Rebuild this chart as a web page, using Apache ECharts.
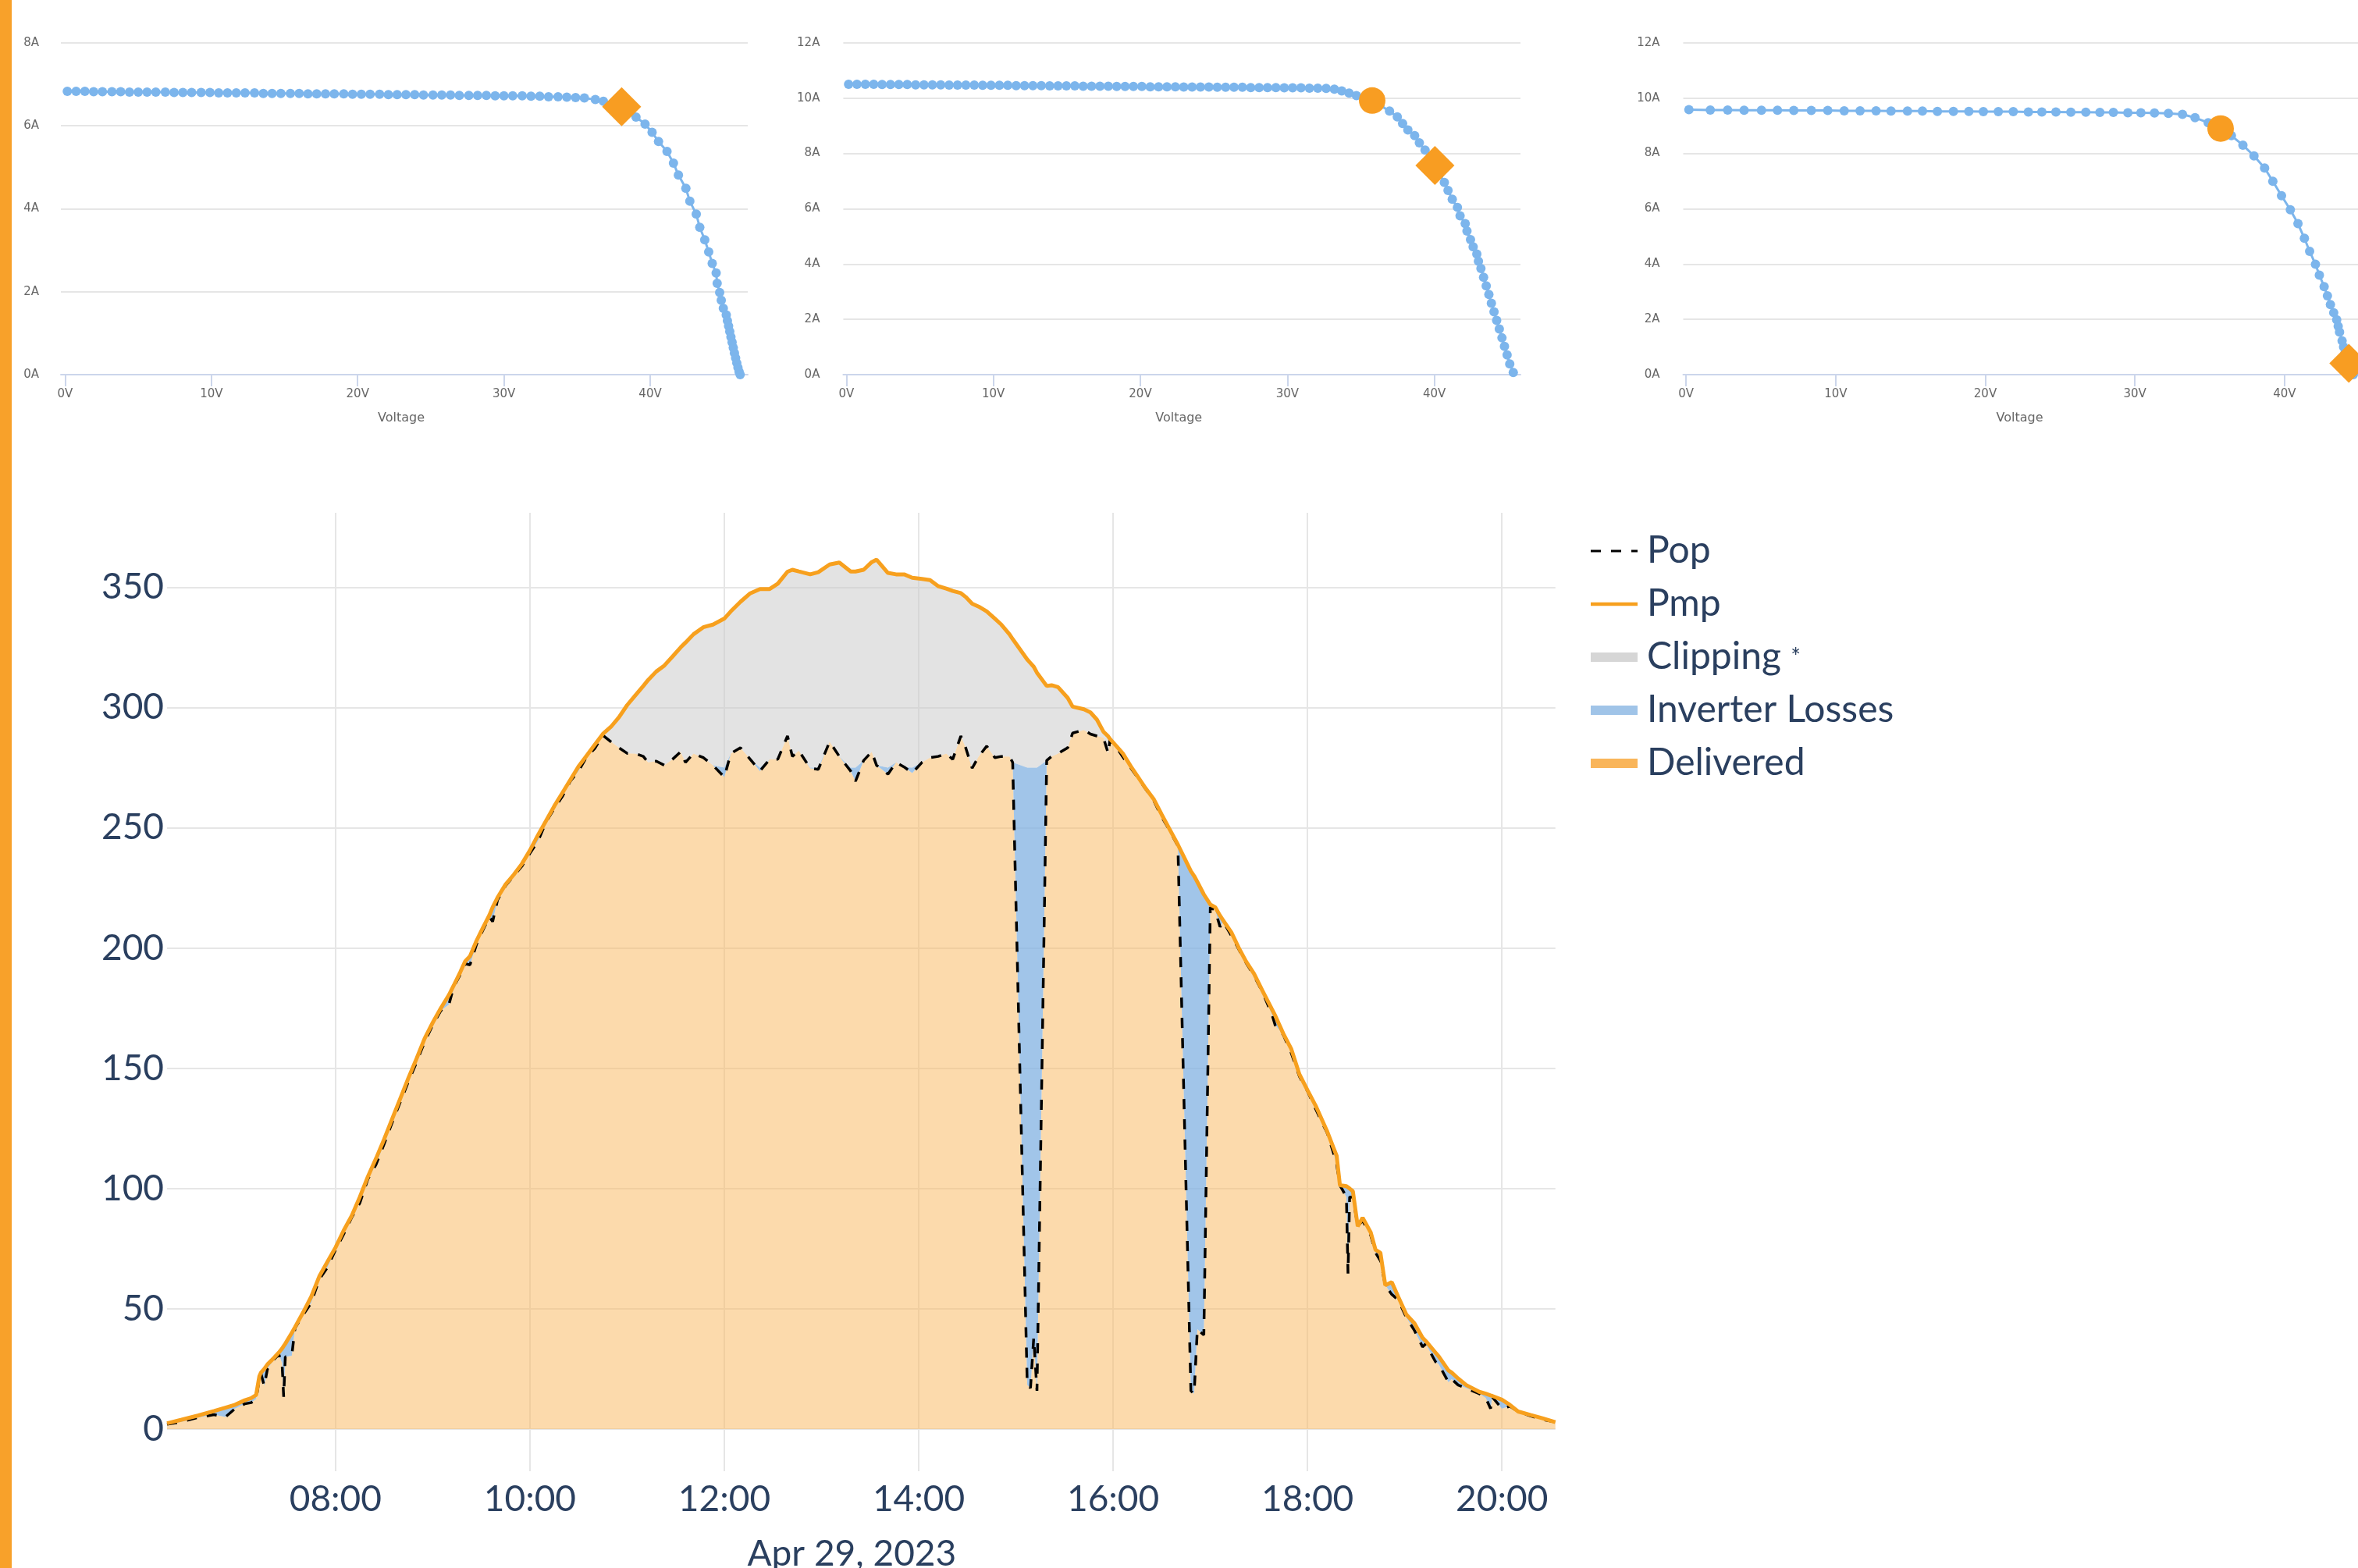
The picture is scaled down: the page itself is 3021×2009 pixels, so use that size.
<!DOCTYPE html>
<html><head><meta charset="utf-8">
<script src="https://cdn.jsdelivr.net/npm/echarts@6.0.0/dist/echarts.min.js"></script>
<style>html,body{margin:0;padding:0;background:#fff;overflow:hidden}#c{width:3021px;height:2009px}</style>
</head><body><div id="c"></div><script>
// ---------- IV curves (Voltage [V], Current [A]) ----------
const ivCurve1 = [[0.15,6.83],[0.75,6.83],[1.35,6.83],[1.95,6.82],[2.55,6.82],[3.2,6.82],[3.8,6.82],[4.4,6.81],[5.0,6.81],[5.6,6.81],
[6.2,6.81],[6.85,6.81],[7.45,6.80],[8.05,6.80],[8.65,6.80],[9.3,6.80],[9.9,6.80],[10.5,6.79],[11.1,6.79],[11.7,6.79],
[12.3,6.79],[12.95,6.79],[13.55,6.78],[14.15,6.78],[14.75,6.78],[15.4,6.78],[16.0,6.78],[16.6,6.77],[17.2,6.77],[17.8,6.77],
[18.4,6.77],[19.05,6.77],[19.65,6.76],[20.25,6.76],[20.85,6.76],[21.5,6.76],[22.1,6.75],[22.7,6.75],[23.3,6.75],[23.9,6.75],
[24.5,6.74],[25.15,6.74],[25.75,6.74],[26.35,6.74],[26.95,6.73],[27.6,6.73],[28.2,6.73],[28.8,6.73],[29.4,6.72],[30.0,6.72],
[30.6,6.72],[31.25,6.72],[31.85,6.71],[32.45,6.71],[33.05,6.70],[33.7,6.70],[34.3,6.69],[34.9,6.68],[35.5,6.67],[36.25,6.63],
[36.8,6.59],[37.45,6.53],[38.05,6.46],[38.55,6.35],[39.03,6.21],[39.65,6.04],[40.13,5.84],[40.57,5.62],[41.15,5.38],[41.59,5.10],
[41.93,4.81],[42.44,4.49],[42.71,4.18],[43.15,3.87],[43.39,3.55],[43.73,3.25],[44.0,2.96],[44.24,2.68],[44.51,2.45],[44.58,2.20],
[44.75,1.98],[44.86,1.79],[45.0,1.60],[45.2,1.44],[45.28,1.30],[45.36,1.17],[45.44,1.04],[45.52,0.91],[45.6,0.78],[45.68,0.65],
[45.76,0.52],[45.84,0.40],[45.92,0.28],[46.0,0.17],[46.08,0.07],[46.15,0.0]];
const ivCurve2 = [[0.15,10.50],[0.72,10.50],[1.29,10.50],[1.86,10.50],[2.43,10.49],[3.0,10.49],[3.57,10.49],[4.14,10.49],[4.71,10.48],[5.28,10.48],
[5.85,10.48],[6.42,10.48],[6.99,10.47],[7.56,10.47],[8.13,10.47],[8.7,10.47],[9.27,10.46],[9.84,10.46],[10.41,10.46],[10.98,10.46],
[11.55,10.45],[12.12,10.45],[12.69,10.45],[13.26,10.45],[13.83,10.44],[14.4,10.44],[14.97,10.44],[15.54,10.44],[16.11,10.43],[16.68,10.43],
[17.25,10.43],[17.82,10.43],[18.39,10.42],[18.96,10.42],[19.53,10.42],[20.1,10.42],[20.67,10.41],[21.24,10.41],[21.81,10.41],[22.38,10.41],
[22.95,10.40],[23.52,10.40],[24.09,10.40],[24.66,10.40],[25.23,10.39],[25.8,10.39],[26.37,10.39],[26.94,10.39],[27.51,10.38],[28.08,10.38],
[28.65,10.38],[29.22,10.38],[29.79,10.37],[30.36,10.37],[30.93,10.37],[31.5,10.36],[32.07,10.36],[32.64,10.35],[33.2,10.32],[33.7,10.26],
[34.2,10.18],[34.7,10.09],[35.25,10.0],[35.77,9.91],[36.3,9.74],[36.95,9.53],[37.48,9.32],[37.84,9.08],[38.2,8.85],[38.66,8.64],
[38.98,8.38],[39.37,8.12],[39.7,7.85],[40.04,7.56],[40.35,7.25],[40.68,6.95],[40.93,6.66],[41.22,6.34],[41.57,6.05],[41.75,5.74],
[42.1,5.46],[42.22,5.19],[42.46,4.88],[42.64,4.62],[42.89,4.36],[43.0,4.1],[43.17,3.84],[43.35,3.52],[43.53,3.21],[43.71,2.90],
[43.88,2.58],[44.06,2.27],[44.24,1.96],[44.42,1.65],[44.6,1.33],[44.77,1.02],[44.95,0.71],[45.13,0.39],[45.37,0.08]];
const ivCurve3 = [[0.19,9.58],[1.62,9.57],[2.78,9.57],[3.88,9.56],[5.04,9.56],[6.11,9.56],[7.2,9.55],[8.37,9.55],[9.47,9.55],[10.57,9.54],
[11.63,9.54],[12.7,9.54],[13.7,9.53],[14.8,9.53],[15.8,9.53],[16.8,9.52],[17.87,9.52],[18.9,9.52],[19.87,9.51],[20.87,9.51],
[21.87,9.51],[22.88,9.5],[23.78,9.5],[24.72,9.5],[25.72,9.49],[26.72,9.49],[27.66,9.48],[28.56,9.48],[29.53,9.47],[30.4,9.47],
[31.31,9.46],[32.24,9.45],[33.18,9.41],[34.02,9.29],[34.9,9.11],[35.73,8.9],[36.45,8.64],[37.22,8.3],[37.96,7.91],[38.67,7.47],
[39.22,6.99],[39.8,6.47],[40.39,5.96],[40.9,5.46],[41.33,4.93],[41.68,4.46],[42.07,3.99],[42.33,3.6],[42.65,3.18],[42.87,2.85],
[43.07,2.53],[43.29,2.24],[43.49,1.98],[43.59,1.75],[43.68,1.54],[43.85,1.22],[43.95,1.0],[44.05,0.8],[44.15,0.6],[44.3,0.41],
[44.45,0.2],[44.6,0.0]];
const diamond1 = [[38.05,6.46]];
const circle2 = [[35.77,9.91]];
const diamond2 = [[40.04,7.56]];
const circle3 = [[35.73,8.9]];
const diamond3 = [[44.3,0.41]];
const voltTicks = [0,10,20,30,40];
const ivYMax = [8,12,12];
const ivXRange = [[-0.29,46.67],[-0.21,45.86],[-0.19,45.2]];

// ---------- Power over the day ----------
const timeLabels = ['06:16','06:25','06:35','06:45','06:52','06:58','07:04','07:08','07:11','07:13',
'07:14','07:16','07:18','07:22','07:25','07:27','07:28','07:29','07:33','07:35',
'07:40','07:45','07:50','07:55','08:00','08:05','08:10','08:15','08:20','08:25',
'08:30','08:35','08:40','08:45','08:50','08:55','09:00','09:05','09:10','09:13',
'09:17','09:20','09:23','09:27','09:31','09:35','09:37','09:40','09:45','09:50',
'09:55','10:00','10:05','10:10','10:15','10:20','10:25','10:30','10:35','10:40',
'10:45','10:50','10:55','11:00','11:05','11:10','11:13','11:18','11:23','11:28',
'11:33','11:36','11:41','11:47','11:53','12:00','12:04','12:10','12:16','12:22',
'12:28','12:33','12:39','12:42','12:46','12:53','12:58','13:05','13:11','13:18',
'13:21','13:26','13:31','13:34','13:41','13:46','13:51','13:56','14:02','14:07',
'14:12','14:17','14:21','14:26','14:29','14:33','14:37','14:42','14:47','14:51',
'14:56','14:58','15:07','15:09','15:11','15:13','15:19','15:22','15:26','15:32',
'15:35','15:42','15:46','15:50','15:54','15:57','15:58','16:02','16:06','16:11',
'16:15','16:20','16:25','16:30','16:34','16:40','16:48','16:50','16:52','16:56',
'17:00','17:03','17:06','17:08','17:13','17:18','17:22','17:27','17:32','17:38',
'17:40','17:45','17:50','17:55','18:00','18:05','18:10','18:12','18:16','18:18',
'18:20','18:24','18:25','18:26','18:28','18:31','18:34','18:39','18:42','18:45',
'18:48','18:52','18:56','19:01','19:06','19:11','19:13','19:19','19:21','19:27',
'19:29','19:33','19:38','19:46','19:50','19:53','19:54','20:00','20:05','20:10',
'20:18','20:25','20:33'];
const pmpValues = [2.4,3.9,5.6,7.5,8.9,10.1,12.0,12.9,14.2,22.0,
23.5,25.0,26.9,29.6,31.8,33.5,34.5,35.5,40.0,42.4,
48.5,55.0,63.5,69.5,75.5,82.5,88.7,96.5,105.0,112.5,
120.5,129.0,137.5,146.0,154.0,162.4,169.0,175.0,180.5,184.5,
190.0,194.5,196.6,203.0,208.5,213.7,217.0,221.0,226.5,230.5,
235.0,240.6,247.0,253.0,259.0,264.5,270.0,275.5,280.0,284.5,
289.0,292.0,296.0,301.0,305.0,309.0,311.5,315.0,317.5,321.2,
325.0,327.0,330.5,333.4,334.5,337.0,340.0,344.0,347.5,349.3,
349.3,351.5,356.5,357.3,356.6,355.4,356.3,359.5,360.3,356.6,
356.6,357.3,360.5,361.5,356.0,355.4,355.4,354.0,353.5,353.0,
350.5,349.5,348.5,347.6,346.0,343.2,342.0,340.0,337.0,334.5,
330.5,328.5,320.0,318.5,317.0,314.5,309.0,309.3,308.5,304.0,
300.4,299.3,298.0,295.0,290.0,288.0,287.0,284.0,280.9,275.5,
271.5,266.5,262.0,255.5,250.5,243.0,232.0,230.0,227.5,222.3,
218.1,217.0,213.5,211.5,206.5,199.5,194.5,189.3,182.5,174.6,
172.0,164.5,158.0,147.5,140.9,134.5,127.0,124.0,117.0,113.6,
101.4,101.0,100.5,100.0,98.9,84.3,87.9,81.8,74.5,73.3,
59.8,61.1,55.0,47.6,44.0,38.0,36.6,31.8,30.2,24.4,
23.5,21.0,18.3,15.5,14.7,14.0,13.8,12.2,10.0,7.3,
5.8,4.5,2.9];
const popValues = [2.0,3.0,4.8,6.0,5.0,8.5,10.5,11.0,12.5,21.0,
23.0,18.0,25.0,29.0,31.0,27.5,13.4,30.0,30.5,42.0,
47.5,52.5,62.3,67.2,74.5,81.0,88.0,94.0,104.0,110.0,
118.5,127.5,136.0,144.5,152.5,161.0,168.0,174.0,176.5,184.0,
189.0,193.5,193.0,201.5,207.5,213.0,211.0,220.0,226.0,230.0,
234.0,239.4,244.5,252.5,258.0,263.0,269.5,273.6,279.5,283.0,
288.5,285.8,283.3,281.0,280.9,279.7,277.2,277.7,276.0,278.5,
281.6,277.2,280.9,279.2,276.0,271.1,280.9,283.3,278.5,273.6,
278.5,278.5,288.2,279.7,282.1,274.8,274.3,285.8,279.7,273.6,
269.4,278.0,281.6,276.0,272.3,277.2,275.3,272.8,277.2,279.2,
279.7,280.9,278.5,288.2,283.3,274.8,279.7,284.0,279.2,279.7,
279.7,277.2,18.3,17.1,37.9,15.9,278.0,279.7,280.9,283.3,
289.4,290.7,289.0,288.2,287.5,280.9,286.5,283.5,279.5,274.8,
271.1,266.2,261.5,254.5,250.0,242.5,15.9,14.7,41.5,39.1,
217.0,215.7,208.8,211.0,205.2,199.0,194.0,188.5,182.0,172.5,
168.0,164.0,156.3,146.6,140.5,133.1,126.0,123.4,114.8,110.0,
101.4,96.5,64.7,96.5,96.5,84.3,86.7,80.6,73.3,70.0,
59.8,56.0,53.7,46.4,41.0,34.2,35.4,28.0,26.9,19.5,
20.8,18.3,17.0,14.7,13.0,8.5,13.4,8.5,9.5,7.3,
5.4,4.0,2.9];
const clipLevel = 275;
const hourTicks = ['08:00','10:00','12:00','14:00','16:00','18:00','20:00'];
const powerTicks = [0,50,100,150,200,250,300,350];
const dateLabel = 'Apr 29, 2023';

// ---------- build ----------
const toMin = s => parseInt(s.slice(0,2),10)*60 + parseInt(s.slice(3),10);
const fmtMin = m => String(Math.floor(m/60)).padStart(2,'0') + ':' + String(Math.round(m%60)).padStart(2,'0');
const xs = timeLabels.map(toMin);
// band boundaries: Delivered [0, Pop], Inverter Losses [Pop, B], Clipping [B, max(B, Pmp)]
const zeroLine = xs.map(() => 0);
const bLine = popValues.map((p,i) => Math.max(p, Math.min(pmpValues[i], Math.max(p, clipLevel))));
const topLine = bLine.map((b,i) => Math.max(b, pmpValues[i]));
const pair = arr => xs.map((x,i) => [x, arr[i]]);

const ORANGE = '#f7a01e';
const IVBLUE = '#7cb5ec';
const HC_TEXT = '#666666';
const PL_TEXT = '#2a3f5f';

const ivGridPos = [{left:78, width:880},{left:1080.4, width:867.6},{left:2156.5, width:870}];
const grids = ivGridPos.map(g => ({left:g.left, width:g.width, top:54.8, height:425.2, outerBoundsMode:'none', containLabel:false}));
grids.push({left:214, top:657, width:1778.7, height:1174, outerBoundsMode:'none', containLabel:false});

const xAxes = [], yAxes = [];
for (let i = 0; i < 3; i++) {
  xAxes.push({
    type:'value', gridIndex:i, min:ivXRange[i][0], max:ivXRange[i][1],
    name:'Voltage', nameLocation:'middle', nameGap:48,
    nameTextStyle:{color:HC_TEXT, fontSize:16, fontFamily:'DejaVu Sans', padding:[0,8,0,0]},
    axisLine:{show:true, onZero:false, lineStyle:{color:'#ccd6eb', width:2}},
    axisTick:{show:true, length:15, customValues:voltTicks, lineStyle:{color:'#ccd6eb', width:2}},
    axisLabel:{customValues:voltTicks, formatter:'{value}V', color:HC_TEXT, fontSize:15, fontFamily:'DejaVu Sans', margin:18},
    splitLine:{show:false}
  });
  yAxes.push({
    type:'value', gridIndex:i, min:0, max:ivYMax[i], interval:2,
    axisLine:{show:false}, axisTick:{show:false},
    axisLabel:{formatter:'{value}A', color:HC_TEXT, fontSize:15, fontFamily:'DejaVu Sans', margin:i===0?28:30},
    splitLine:{show:true, lineStyle:{color:'#e6e6e6', width:2}}
  });
}
const hourMins = hourTicks.map(toMin);
xAxes.push({
  type:'value', gridIndex:3, min:376, max:1233,
  name:dateLabel, nameLocation:'middle', nameGap:137,
  nameTextStyle:{color:PL_TEXT, fontSize:46, fontFamily:'Lato', padding:[0,24,0,0]},
  axisLine:{show:false},
  axisTick:{show:true, length:54, customValues:hourMins, lineStyle:{color:'#e6e6e6', width:2}},
  axisLabel:{customValues:hourMins, formatter:v => fmtMin(v), color:PL_TEXT, fontSize:46, fontFamily:'Lato', margin:67},
  splitLine:{show:true, lineStyle:{color:'#e6e6e6', width:2}}
});
yAxes.push({
  type:'value', gridIndex:3, min:0, max:381,
  axisLine:{show:false},
  axisTick:{show:false, customValues:powerTicks},
  axisLabel:{customValues:powerTicks, color:PL_TEXT, fontSize:46, fontFamily:'Lato', margin:4},
  splitLine:{show:true, lineStyle:{color:'#e6e6e6', width:2}}
});

const series = [];
const ivCurves = [ivCurve1, ivCurve2, ivCurve3];
ivCurves.forEach((c,i) => series.push({
  type:'line', xAxisIndex:i, yAxisIndex:i, data:c, symbol:'circle', symbolSize:12,
  lineStyle:{color:IVBLUE, width:3}, itemStyle:{color:IVBLUE, opacity:1}, z:2, silent:true
}));
const markers = [[0,diamond1,'diamond',50],[1,circle2,'circle',34],[1,diamond2,'diamond',50],[2,circle3,'circle',34],[2,diamond3,'diamond',50]];
markers.forEach(m => series.push({
  type:'scatter', xAxisIndex:m[0], yAxisIndex:m[0], data:m[1], symbol:m[2], symbolSize:m[3],
  itemStyle:{color:'#f89d22', opacity:1}, z:3, silent:true
}));

// filled band between two lines, drawn through the grid's own coordinate conversion
function band(name, lower, upper, fill, legendColor) {
  return {
    name, type:'custom', xAxisIndex:3, yAxisIndex:3, silent:true, clip:true, z:2,
    data:[[xs[0], 0]],
    itemStyle:{color:legendColor},
    renderItem:(params, api) => {
      const pts = [];
      for (let i = 0; i < xs.length; i++) pts.push(api.coord([xs[i], upper[i]]));
      for (let i = xs.length - 1; i >= 0; i--) pts.push(api.coord([xs[i], lower[i]]));
      return {type:'polygon', shape:{points:pts}, style:{fill:fill, stroke:null, lineWidth:0}};
    }
  };
}
series.push(band('Delivered', zeroLine, popValues, 'rgba(249,181,90,0.5)', '#f9b55a'));
series.push(band('Inverter Losses', popValues, bLine, 'rgba(130,178,226,0.75)', '#a0c4e8'));
series.push(band('Clipping', bLine, topLine, 'rgba(200,200,200,0.5)', '#d6d6d6'));
series.push({name:'Pop', type:'line', xAxisIndex:3, yAxisIndex:3, data:pair(popValues), symbol:'none', silent:true,
  itemStyle:{color:'#000'}, lineStyle:{color:'#000', width:3.5, type:[13,13]}, z:4});
series.push({name:'Pmp', type:'line', xAxisIndex:3, yAxisIndex:3, data:pair(pmpValues), symbol:'none', silent:true,
  itemStyle:{color:ORANGE}, lineStyle:{color:ORANGE, width:5}, z:5});

const chart = echarts.init(document.getElementById('c'), null, {renderer:'canvas', width:3021, height:2009});
chart.setOption({
  animation:false,
  backgroundColor:'#ffffff',
  grid:grids, xAxis:xAxes, yAxis:yAxes, series:series,
  legend:{
    orient:'vertical', left:2033, top:677, itemWidth:60, itemHeight:12, itemGap:20,
    selectedMode:false,
    itemStyle:{borderWidth:0},
    textStyle:{color:PL_TEXT, fontSize:48, fontFamily:'Lato', padding:[0,0,0,7],
      rich:{s:{fontSize:30, fontFamily:'Lato', color:PL_TEXT}}},
    formatter: n => n === 'Clipping' ? 'Clipping {s|*}' : n,
    data:[
      {name:'Pop', icon:'path://M0,0L0.1,0ZM0,12L0.1,12ZM0,4.6H13V7.4H0ZM26,4.6H39V7.4H26ZM52,4.6H60V7.4H52Z', itemStyle:{color:'#000', borderWidth:0}},
      {name:'Pmp', icon:'path://M0,0L0.1,0ZM0,12L0.1,12ZM0,3.7H60V8.3H0Z', itemStyle:{color:ORANGE, borderWidth:0}},
      {name:'Clipping', icon:'rect', itemStyle:{color:'#d6d6d6', borderWidth:0}},
      {name:'Inverter Losses', icon:'rect', itemStyle:{color:'#a0c4e8', borderWidth:0}},
      {name:'Delivered', icon:'rect', itemStyle:{color:'#f9b55a', borderWidth:0}}
    ]
  },
  graphic:[{type:'rect', left:0, top:0, shape:{width:15, height:2009}, style:{fill:'#f8a12a'}, z:10}]
});
</script></body></html>
